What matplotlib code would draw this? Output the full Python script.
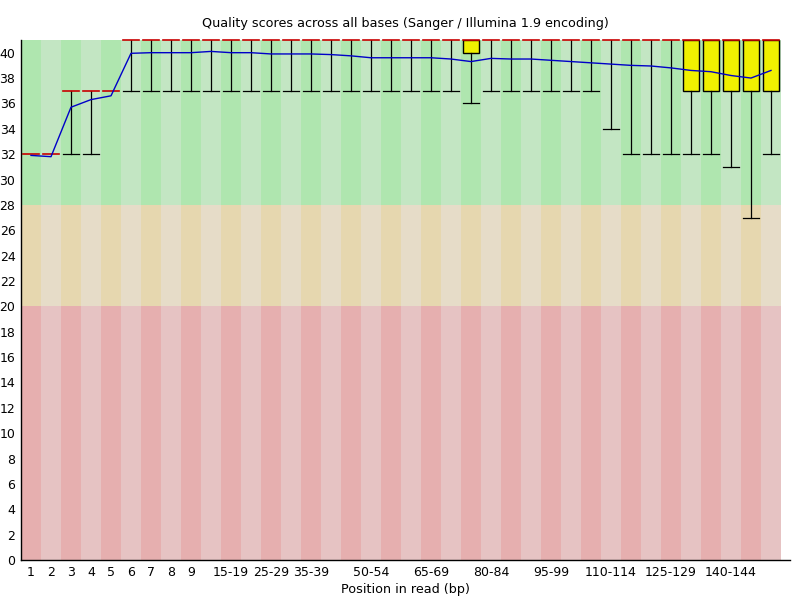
import matplotlib
matplotlib.use('Agg')
import matplotlib.pyplot as plt
import numpy as np

# per-position groups of the read (FastQC style)
groups = [str(i) for i in range(1, 10)] + [f'{i}-{i + 4}' for i in range(10, 150, 5)] + ['150']
shown_labels = ['1', '2', '3', '4', '5', '6', '7', '8', '9', '15-19', '25-29', '35-39',
                '50-54', '65-69', '80-84', '95-99', '110-114', '125-129', '140-144']

median = [32, 32, 37, 37, 37] + [41] * 33
q1 = [32, 32, 37, 37, 37] + [41] * 17 + [40] + [41] * 10 + [37] * 5
q3 = [32, 32, 37, 37, 37] + [41] * 33
p10 = [32, 32, 32, 32, 37] + [37] * 17 + [36] + [37] * 6 + [34, 32, 32, 32, 32, 32, 31, 27, 32]
p90 = [32, 32, 37, 37, 37] + [41] * 33
mean = [31.9, 31.8, 35.7, 36.3, 36.6, 39.95, 40.0, 40.0, 40.0, 40.1,
        40.0, 40.0, 39.9, 39.9, 39.9, 39.85, 39.75, 39.6, 39.6, 39.6,
        39.6, 39.5, 39.3, 39.55, 39.5, 39.5, 39.4, 39.3, 39.2, 39.1,
        39.0, 38.95, 38.8, 38.6, 38.5, 38.2, 38.0, 38.6]

# quality bands: (low, high, dark colour, light colour)
bands = [(0, 20, '#e6afaf', '#e6c3c3'),
         (20, 28, '#e6d7af', '#e6dcc8'),
         (28, 41, '#afe6af', '#c3e6c3')]

fig = plt.figure(figsize=(8, 6), dpi=100)
ax = fig.add_axes([21 / 800, 40 / 600, 769 / 800, 520 / 600])

x = np.arange(1, len(groups) + 1)
for lo, hi, dark, light in bands:
    cols = [dark if i % 2 == 0 else light for i in range(len(groups))]
    ax.bar(x, hi - lo, bottom=lo, width=1.0, color=cols, linewidth=0, zorder=0)

w = 0.8
for xi, a, b, lo, hi, med in zip(x, q1, q3, p10, p90, median):
    if b > a:
        ax.add_patch(plt.Rectangle((xi - w / 2, a), w, b - a, facecolor='#f0f000',
                                   edgecolor='black', linewidth=1.0, zorder=2))
    if a > lo:
        ax.plot([xi, xi], [lo, a], color='black', lw=0.9, zorder=3)
        ax.plot([xi - w / 2, xi + w / 2], [lo, lo], color='black', lw=0.9, zorder=3)
    if hi > b:
        ax.plot([xi, xi], [b, hi], color='black', lw=0.9, zorder=3)
        ax.plot([xi - w / 2, xi + w / 2], [hi, hi], color='black', lw=0.9, zorder=3)
    ax.plot([xi - w / 2, xi + w / 2], [med, med], color='#c80000', lw=1.2, zorder=4,
            clip_on=False)

ax.plot(x, mean, color='#0000c8', lw=1.0, zorder=5)

ax.set_xlim(0.5, 0.5 + 769 / 20)
ax.set_ylim(0, 41)
ax.set_yticks(range(0, 41, 2))
ax.set_xticks([groups.index(s) + 1 for s in shown_labels])
ax.set_xticklabels(shown_labels)
ax.tick_params(length=0, labelsize=9, pad=4)
for side in ['top', 'right']:
    ax.spines[side].set_visible(False)
for side in ['left', 'bottom']:
    ax.spines[side].set_color('black')
    ax.spines[side].set_linewidth(1.0)
    ax.spines[side].set_zorder(6)

ax.set_title('Quality scores across all bases (Sanger / Illumina 1.9 encoding)',
             fontsize=9.2, pad=9)
ax.set_xlabel('Position in read (bp)', fontsize=9.2, labelpad=3)

fig.savefig('out.png', dpi=100)
